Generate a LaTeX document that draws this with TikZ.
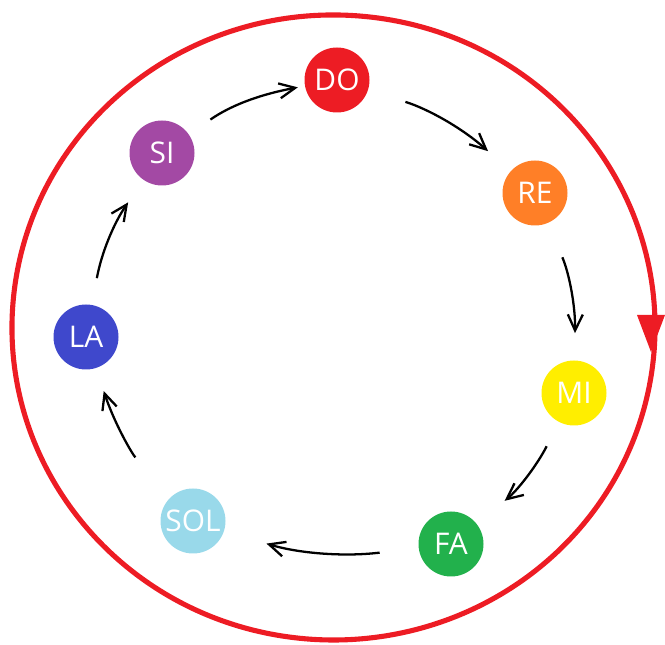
\documentclass[tikz,border=0pt]{standalone}
\usepackage{fontspec}
\setmainfont{Open Sans}
\usetikzlibrary{arrows.meta}

\definecolor{doRed}{RGB}{237,28,36}
\definecolor{reOrange}{RGB}{255,127,39}
\definecolor{miYellow}{RGB}{255,238,0}
\definecolor{faGreen}{RGB}{34,177,76}
\definecolor{solBlue}{RGB}{153,217,234}
\definecolor{laBlue}{RGB}{63,72,204}
\definecolor{siPurple}{RGB}{163,73,164}

\tikzset{
  note/.style={circle, minimum size=1.3cm, inner sep=0pt, text=white,
    font=\fontsize{17}{19}\selectfont},
  flow/.style={-{Straight Barb[length=3.2mm,width=3mm]}, line width=1.3pt,
    shorten <=0.6cm, shorten >=0.6cm, bend left=12},
  ring/.style={doRed, line width=2.9pt}
}

\begin{document}
\begin{tikzpicture}
    \useasboundingbox (0,0) rectangle (13.3,12.9);

    % Outer cycle
    \coordinate (c) at (6.67,6.35);
    \draw[ring] ([shift={(-7:6.43 and 6.25)}]c) arc[start angle=-7, end angle=355, x radius=6.43, y radius=6.25];
    \fill[doRed] (12.74,6.6) -- (13.3,6.6) -- (13.02,5.86) -- cycle;

    % Notes
    \node[note, fill=doRed] (do) at (6.74,11.30) {DO};
    \node[note, fill=reOrange] (re) at (10.70,9.04) {RE};
    \node[note, fill=miYellow] (mi) at (11.48,5.04) {MI};
    \node[note, fill=faGreen] (fa) at (9.02,2.02) {FA};
    \node[note, fill=solBlue] (sol) at (3.86,2.48) {SOL};
    \node[note, fill=laBlue] (la) at (1.72,6.16) {LA};
    \node[note, fill=siPurple] (si) at (3.24,9.84) {SI};

    % Steps
    \draw[flow, shorten <=0.78cm] (do) to (re);
    \draw[flow, shorten <=0.74cm, shorten >=0.54cm] (re) to (mi);
    \draw[flow, shorten <=0.54cm, shorten >=0.72cm] (mi) to (fa);
    \draw[flow, shorten <=0.78cm, shorten >=0.88cm] (fa) to (sol);
    \draw[flow, shorten <=1.06cm, shorten >=0.48cm] (sol) to (la);
    \draw[flow, shorten <=0.54cm, shorten >=0.54cm] (la) to (si);
    \draw[flow, shorten <=0.52cm, shorten >=0.14cm] (si) to (do);
\end{tikzpicture}
\end{document}
